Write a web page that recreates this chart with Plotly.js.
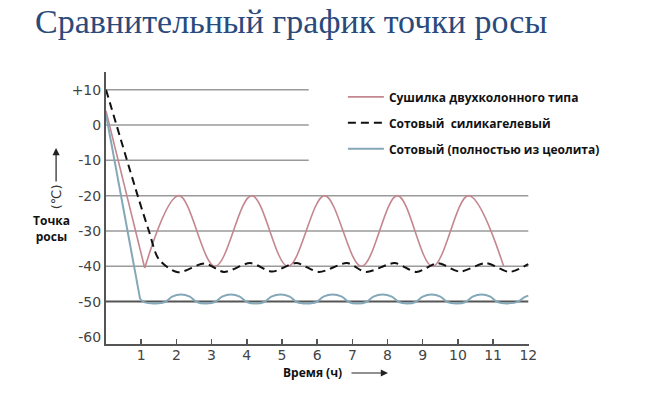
<!DOCTYPE html>
<html>
<head>
<meta charset="utf-8">
<script src="https://cdn.plot.ly/plotly-3.0.1.min.js"></script>
<style>
  html, body { margin: 0; padding: 0; background: #fff; }
  #chart { width: 656px; height: 406px; }
</style>
</head>
<body>
<div id="chart"></div>
<script>
// dew point vs time
const names = ["Сушилка двухколонного типа", "Сотовый  силикагелевый", "Сотовый (полностью из цеолита)"];

// twin-column dryer: straight fall, then a swing between -40 and -20
const redDropT = [0, 1.1];
const redDropY = [4, -40.5];
const redT = [1.1, 2.07, 3.1, 4.14, 5.17, 6.21, 7.26, 8.28, 9.28, 10.3, 11.3];
const redY = [-40.5, -20, -40, -20, -40, -20, -40, -20, -40, -20, -40];

// honeycomb silica gel
const blackT = [0, 0.9, 1.22, 1.5, 2.04, 2.8, 3.35, 4.1, 4.72, 5.4, 6.05, 6.85, 7.38, 8.2, 8.82, 9.43, 10.05, 10.8, 11.46, 12];
const blackY = [10, -20, -30, -38, -41.7, -39.2, -41.6, -39.1, -41.5, -39.1, -41.6, -39.1, -41.6, -39.1, -41.6, -39.1, -41.5, -39.1, -41.6, -39.4];

// honeycomb zeolite
const blueDropT = [0, 0.97];
const blueDropY = [3, -49.3];
const blueT = [0.97, 1.1, 1.4,
    1.68, 1.88, 2.13, 2.38, 2.58, 2.85,
    3.1, 3.3, 3.55, 3.8, 4.0, 4.25,
    4.5, 4.7, 4.96, 5.22, 5.42, 5.7,
    5.98, 6.18, 6.44, 6.7, 6.9, 7.15,
    7.4, 7.6, 7.86, 8.12, 8.32, 8.55,
    8.8, 9.0, 9.25, 9.5, 9.7, 9.95,
    10.22, 10.42, 10.67, 10.92, 11.12, 11.4,
    11.72, 11.88, 12];
const blueY = [-49.3, -50.2, -50.5,
    -50.1, -48.6, -48.0, -48.6, -50.1, -50.5,
    -50.1, -48.6, -48.0, -48.6, -50.1, -50.5,
    -50.1, -48.6, -48.0, -48.6, -50.1, -50.5,
    -50.1, -48.6, -48.0, -48.6, -50.1, -50.5,
    -50.1, -48.6, -48.0, -48.6, -50.1, -50.5,
    -50.1, -48.6, -48.0, -48.6, -50.1, -50.5,
    -50.1, -48.6, -48.0, -48.6, -50.1, -50.5,
    -50.0, -48.8, -48.3];

const xTicks = [1, 2, 3, 4, 5, 6, 7, 8, 9, 10, 11, 12];
const yTicks = [10, 0, -10, -20, -30, -40, -50, -60];
const yTickText = ["+10", "0", "-10", "-20", "-30", "-40", "-50", "-60"];
const shortGrid = [10, 0, -10];
const longGrid = [-20, -30, -40];

const RED = "#c4868f";
const BLUE = "#84a8b7";
const BLACK = "#111111";

let data = [
    {x: redDropT, y: redDropY, mode: "lines", line: {color: RED, width: 1.6},
     legendgroup: "a", showlegend: false, hoverinfo: "skip"},
    {x: redT, y: redY, name: names[0], mode: "lines", line: {color: RED, width: 1.6, shape: "spline"},
     legendgroup: "a"},
    {x: blackT, y: blackY, name: names[1], mode: "lines",
     line: {color: BLACK, width: 2, dash: "8px,5px", shape: "spline", smoothing: 0.8},
     legendgroup: "b"},
    {x: blueDropT, y: blueDropY, mode: "lines", line: {color: BLUE, width: 2},
     legendgroup: "c", showlegend: false, hoverinfo: "skip"},
    {x: blueT, y: blueY, name: names[2], mode: "lines", line: {color: BLUE, width: 2, shape: "spline", smoothing: 0.8},
     legendgroup: "c"}
];

let shapes = [];
shortGrid.forEach(v => {
    shapes.push({type: "line", xref: "x", yref: "y", x0: 0, x1: 5.76, y0: v, y1: v,
                 line: {color: "#9a9a9a", width: 1.5}, layer: "below"});
});
longGrid.forEach(v => {
    shapes.push({type: "line", xref: "x", yref: "y", x0: 0, x1: 12, y0: v, y1: v,
                 line: {color: "#9a9a9a", width: 1.5}, layer: "below"});
});
shapes.push({type: "line", xref: "x", yref: "y", x0: 0, x1: 12, y0: -50, y1: -50,
             line: {color: "#555555", width: 2}, layer: "below"});

const boldFont = {family: "Open Sans, sans-serif", size: 12, color: "#111", weight: "bold"};

let annotations = [
    {xref: "paper", yref: "paper", x: -0.128, y: 0.426, xanchor: "center", yanchor: "middle",
     text: "Точка<br>росы", showarrow: false, font: boldFont, align: "center"},
    {xref: "paper", yref: "paper", x: -0.118, y: 0.54, xanchor: "center", yanchor: "middle",
     text: "(℃)", textangle: -90, showarrow: false,
     font: {family: "DejaVu Sans, sans-serif", size: 13, color: "#333"}},
    {xref: "paper", yref: "paper", x: -0.118, y: 0.7206, ax: 0, ay: 35, text: "", showarrow: true,
     arrowhead: 2, arrowsize: 1.2, arrowwidth: 1.2, arrowcolor: "#222"},
    {xref: "paper", yref: "paper", x: 0.489, y: -0.1066, xanchor: "center", yanchor: "middle",
     text: "Время (ч)", showarrow: false, font: boldFont},
    {xref: "paper", yref: "paper", x: (388 - 106) / 423, y: -0.1066, ax: -38, ay: 0, text: "", showarrow: true,
     arrowhead: 2, arrowsize: 1.2, arrowwidth: 1.2, arrowcolor: "#222"}
];

let layout = {
    width: 656,
    height: 406,
    margin: {l: 106, r: 127, t: 72, b: 62},
    paper_bgcolor: "#ffffff",
    plot_bgcolor: "#ffffff",
    title: {
        text: "Сравнительный график точки росы",
        xref: "container", yref: "container",
        x: 35 / 656, xanchor: "left",
        y: 1 - 21 / 406, yanchor: "middle",
        font: {family: "Liberation Serif, Times New Roman, serif", size: 34, color: "#2b4a7c"}
    },
    xaxis: {
        range: [0, 12.02],
        tickvals: xTicks,
        ticks: "inside", ticklen: 5, tickwidth: 1.5, tickcolor: "#555",
        ticklabelstandoff: -3,
        showgrid: false, zeroline: false,
        showline: true, linecolor: "#555", linewidth: 2,
        tickfont: {family: "DejaVu Sans, sans-serif", size: 14, color: "#444"},
        fixedrange: true
    },
    yaxis: {
        range: [-62, 15],
        tickvals: yTicks, ticktext: yTickText,
        ticks: "", showgrid: false, zeroline: false,
        showline: true, linecolor: "#555", linewidth: 2,
        tickfont: {family: "DejaVu Sans, sans-serif", size: 14, color: "#444"},
        fixedrange: true
    },
    legend: {
        x: 0.56, y: 0.962, xanchor: "left", yanchor: "top",
        bgcolor: "rgba(0,0,0,0)",
        font: boldFont,
        tracegroupgap: 7,
        itemwidth: 36
    },
    shapes: shapes,
    annotations: annotations
};

Plotly.newPlot("chart", data, layout, {displayModeBar: false, staticPlot: true});
</script>
</body>
</html>
